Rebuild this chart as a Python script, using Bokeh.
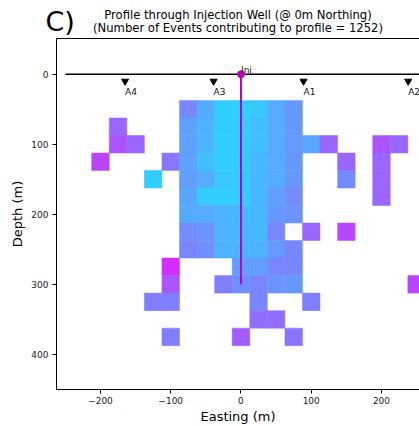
from bokeh.plotting import figure
from bokeh.models import (Range1d, LinearAxis, FixedTicker, Title,
                          ColumnDataSource, LinearColorMapper)
from bokeh.core.properties import value
from bokeh.embed import file_html
from bokeh.resources import INLINE

# ---- data ----
# binned cells: easting centre (m), depth centre (m), colour-scale value (0..1 of 'cool' map)
cell_x = [-75, -50, -25, 0, 25, 50, 75,
          -175, -75, -50, -25, 0, 25, 50, 75,
          -175, -150, -75, -50, -25, 0, 25, 50, 75, 100, 125, 200, 225,
          -200, -100, -75, -50, -25, 0, 25, 50, 75, 150, 200,
          -125, -75, -50, -25, 0, 25, 50, 75, 150, 200,
          -75, -50, -25, 0, 25, 50, 75, 200,
          -75, -50, -25, 0, 25, 50, 75,
          -75, -50, -25, 0, 25, 50, 100, 150,
          -75, -50, -25, 0, 25, 50, 75,
          -100, 0, 25, 50, 75,
          -100, -25, 0, 25, 50, 75, 250,
          -125, -100, 25, 100,
          25, 50,
          -100, 0, 75]
cell_depth = [50, 50, 50, 50, 50, 50, 50,
              75, 75, 75, 75, 75, 75, 75, 75,
              100, 100, 100, 100, 100, 100, 100, 100, 100, 100, 100, 100, 100,
              125, 125, 125, 125, 125, 125, 125, 125, 125, 125, 125,
              150, 150, 150, 150, 150, 150, 150, 150, 150, 150,
              175, 175, 175, 175, 175, 175, 175, 175,
              200, 200, 200, 200, 200, 200, 200,
              225, 225, 225, 225, 225, 225, 225, 225,
              250, 250, 250, 250, 250, 250, 250,
              275, 275, 275, 275, 275,
              300, 300, 300, 300, 300, 300, 300,
              325, 325, 325, 325,
              350, 350,
              375, 375, 375]
cell_value = [0.47, 0.33, 0.20, 0.18, 0.22, 0.33, 0.40,
              0.60, 0.37, 0.30, 0.20, 0.20, 0.25, 0.33, 0.40,
              0.67, 0.60, 0.37, 0.30, 0.20, 0.20, 0.26, 0.33, 0.40, 0.35, 0.60, 0.67, 0.60,
              0.73, 0.53, 0.37, 0.25, 0.20, 0.20, 0.28, 0.33, 0.40, 0.60, 0.60,
              0.20, 0.38, 0.33, 0.22, 0.20, 0.28, 0.33, 0.40, 0.45, 0.60,
              0.35, 0.20, 0.20, 0.20, 0.28, 0.38, 0.45, 0.60,
              0.33, 0.33, 0.30, 0.28, 0.28, 0.40, 0.42,
              0.45, 0.42, 0.30, 0.28, 0.28, 0.47, 0.60, 0.73,
              0.47, 0.44, 0.30, 0.30, 0.30, 0.40, 0.47,
              0.83, 0.38, 0.38, 0.47, 0.47,
              0.67, 0.50, 0.44, 0.47, 0.42, 0.40, 0.73,
              0.50, 0.50, 0.47, 0.50,
              0.57, 0.57,
              0.50, 0.63, 0.55]
cell_size = 25

well_names = ["A4", "A3", "A1", "A2"]
well_x = [-165, -39, 89, 238]
well_depth = [10, 10, 10, 10]
well_label_depth = [25, 25, 25, 25]

surface_x = [-250, 260]
surface_depth = [0, 0]

inj_x = [0, 0]
inj_depth = [0, 300]

x_ticks = [-200, -100, 0, 100, 200]
x_tick_labels = ["\u2212200", "\u2212100", "0", "100", "200"]
y_ticks = [0, 100, 200, 300, 400]
y_tick_labels = ["0", "100", "200", "300", "400"]

title_line1 = "Profile through Injection Well (@ 0m Northing)"
title_line2 = "(Number of Events contributing to profile = 1252)"
panel_tag = "C)"

FONT = "DejaVu Sans"

p = figure(width=419, height=426, output_backend="svg", toolbar_location=None,
           x_range=Range1d(-262.6, 254.1), y_range=Range1d(450.1, -51),
           min_border_left=56, min_border_right=0, min_border_top=38,
           min_border_bottom=36)
p.outline_line_color = None
p.grid.visible = False

for ax in (p.xaxis[0], p.yaxis[0]):
    ax.axis_line_color = "black"
    ax.axis_line_width = 1
    ax.major_tick_line_color = "black"
    ax.major_tick_out = 4
    ax.major_tick_in = 0
    ax.minor_tick_line_color = None
    ax.major_label_text_font = FONT
    ax.major_label_text_font_size = "9px"
    ax.major_label_text_color = "#222222"
    ax.major_label_standoff = 3
    ax.axis_label_text_font = FONT
    ax.axis_label_text_font_size = "13px"
    ax.axis_label_text_font_style = "normal"
    ax.axis_label_text_color = "black"
    ax.axis_label_standoff = 2

p.xaxis[0].ticker = FixedTicker(ticks=x_ticks)
p.xaxis[0].major_label_overrides = dict(zip(x_ticks, x_tick_labels))
p.xaxis[0].axis_label = "Easting (m)"
p.yaxis[0].ticker = FixedTicker(ticks=y_ticks)
p.yaxis[0].major_label_overrides = dict(zip(y_ticks, y_tick_labels))
p.yaxis[0].major_label_standoff = 4
p.yaxis[0].axis_label_standoff = 3
p.yaxis[0].axis_label = "Depth (m)"

top_axis = LinearAxis(ticker=FixedTicker(ticks=[]), axis_line_color="black",
                      major_tick_out=0, major_tick_in=0, minor_tick_out=0,
                      minor_tick_in=0, major_label_text_font_size="0px")
p.add_layout(top_axis, "above")

for txt, so in ((title_line2, 6.5), (title_line1, -12.9)):
    p.add_layout(Title(text=txt, align="center", text_font=FONT,
                       text_font_size="11.6px", text_font_style="normal",
                       text_color="black", standoff=so), "above")

# panel tag: a title whose standoff pulls it down beside the two title lines
p.add_layout(Title(text=panel_tag, align="left", offset=-11, text_font=FONT,
                   text_font_size="27px", text_font_style="normal",
                   text_color="black", standoff=-48.9), "above")

palette = ["#%02x%02xff" % (i, 255 - i) for i in range(256)]
mapper = LinearColorMapper(palette=palette, low=0, high=1)
src = ColumnDataSource(dict(x=cell_x, y=cell_depth, v=cell_value))
p.rect("x", "y", width=cell_size, height=cell_size, source=src,
       fill_color={"field": "v", "transform": mapper},
       line_color={"field": "v", "transform": mapper}, line_width=0.5)

p.line(surface_x, surface_depth, line_color="black", line_width=1.6)
p.line(inj_x, inj_depth, line_color="#bf00bf", line_width=2)
p.scatter([inj_x[0]], [inj_depth[0]], size=7, color="#bf00bf")
p.text([inj_x[0]], [-5.5], text=["Inj"], text_font=value(FONT),
       text_font_size="9px", text_align="left", text_baseline="alphabetic",
       text_color="#111111")

p.scatter(well_x, well_depth, marker="inverted_triangle", size=7, color="black")
p.text(well_x, well_label_depth, text=well_names, text_font=value(FONT),
       text_font_size="9px", text_align="left", text_baseline="alphabetic",
       text_color="#111111")

open("out.html", "w").write(file_html(p, INLINE))
